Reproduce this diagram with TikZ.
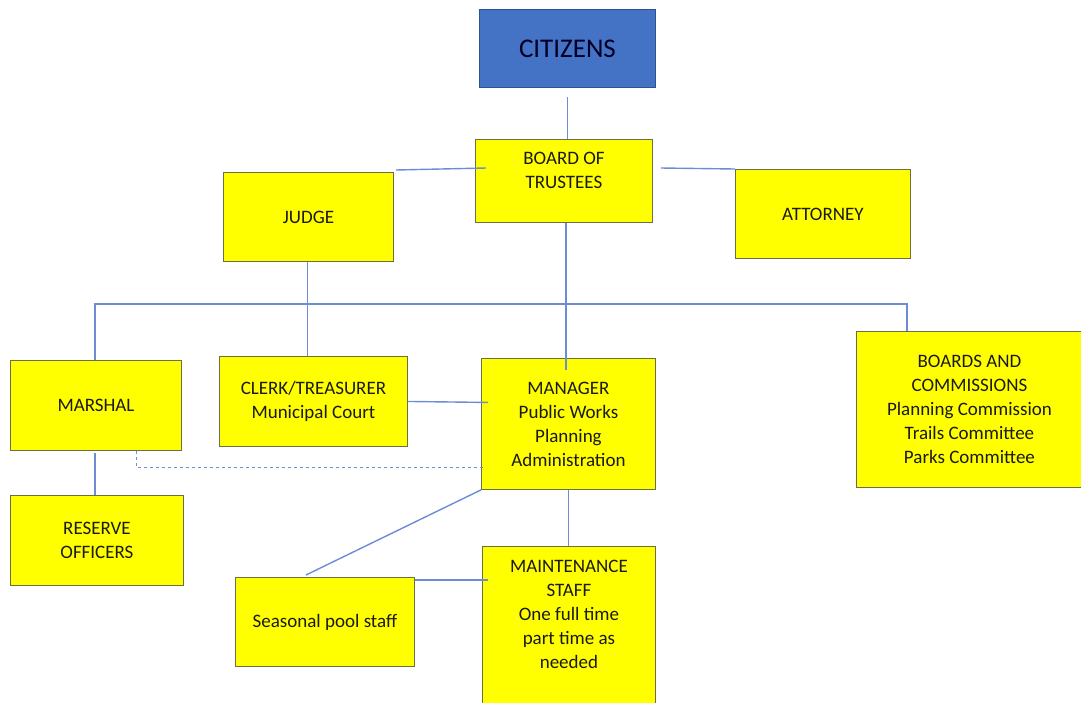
\documentclass[tikz,border=0pt]{standalone}
\usepackage{fontspec}
\setmainfont{Carlito}
\usetikzlibrary{positioning,calc}
\definecolor{boxyellow}{HTML}{FFFF00}
\definecolor{boxedge}{HTML}{6E6E46}
\definecolor{citblue}{HTML}{4472C4}
\definecolor{citedge}{HTML}{2F528F}
\definecolor{linkblue}{HTML}{6C8CD5}
\definecolor{inkdark}{HTML}{1A1A1A}

\begin{document}
\begin{tikzpicture}[x=1pt,y=-1pt,
    box/.style={draw=boxedge,fill=boxyellow,line width=0.9pt,inner sep=0pt,
      anchor=north west,align=center,text=inkdark,font=\fontsize{19}{24}\selectfont},
    txt/.style={align=center,text=inkdark,inner sep=0pt,font=\fontsize{19}{24}\selectfont},
    link/.style={draw=linkblue,line width=1.4pt}]
    \useasboundingbox (0,0) rectangle (1081,702);
    % Boxes
    \node[box,fill=citblue,draw=citedge,minimum width=176,minimum height=78,
      font=\fontsize{27}{32}\selectfont,text=black!85!blue] (citizens) at (479,9) {CITIZENS};
    \node[box,minimum width=177,minimum height=83] (board) at (475,139) {};
    \node[txt,anchor=north] (boardtext) at ($(board.north)+(0,13)$) {BOARD OF\\TRUSTEES};
    \node[box,minimum width=170,minimum height=89] (judge) at (223,172) {JUDGE};
    \node[box,minimum width=175,minimum height=89] (attorney) at (735,169) {ATTORNEY};
    \node[box,minimum width=171,minimum height=90] (marshal) at (10,360) {MARSHAL};
    \node[box,minimum width=188,minimum height=90] (clerk) at (219,356) {CLERK/TREASURER\\Municipal Court};
    \node[box,minimum width=174,minimum height=131] (manager) at (481,358) {MANAGER\\Public Works\\Planning\\Administration};
    \node[box,minimum width=226,minimum height=156] (bc) at (856,331) {BOARDS AND\\COMMISSIONS\\Planning Commission\\Trails Committee\\Parks Committee};
    \node[box,minimum width=173,minimum height=90] (reserve) at (10,495) {RESERVE\\OFFICERS};
    \node[box,minimum width=179,minimum height=89] (seasonal) at (235,577) {Seasonal pool staff};
    \node[box,minimum width=173,minimum height=170] (maint) at (482,546) {};
    \node[txt,anchor=north] (mainttext) at ($(maint.north)+(0,14)$) {MAINTENANCE\\STAFF\\One full time\\part time as\\needed};
    % Connectors
    \coordinate (busL) at (95,304);
    \coordinate (busR) at (907,304);
    \draw[link] ($(citizens.south)+(0,9)$) -- (citizens.south |- board.north);
    \draw[link] ($(judge.north east)+(2,-2)$) -- ($(board.west |- judge.north east)+(11,-4)$);
    \draw[link] ($(board.east |- attorney.north west)+(8,-1)$) -- (attorney.north west);
    \draw[link] ($(board.south)+(2,0)$) -- ($(manager.north -| board.south)+(2,12)$);
    \draw[link] (marshal.north -| busL) -- (busL) -- (busR) -- (busR |- bc.north);
    \draw[link] ($(judge.south)+(-1,0)$) -- ($(judge.south |- clerk.north)+(-1,0)$);
    \draw[link] (clerk.east) -- ($(manager.west |- clerk.east)+(7,1)$);
    \draw[link,dashed,line width=1pt] ($(marshal.south)+(41,0)$) |- ($(manager.west)+(2,44)$);
    \draw[link] ($(marshal.south)+(-1,2)$) -- ($(marshal.south |- reserve.north)+(-1,0)$);
    \draw[link] (manager.south) -- (manager.south |- maint.north);
    \draw[link] (manager.south west) -- ($(seasonal.north)+(-19,-2)$);
    \draw[link] ($(seasonal.north east)+(0,3)$) -- ($(seasonal.north east -| maint.west)+(6,3)$);
\end{tikzpicture}
\end{document}
